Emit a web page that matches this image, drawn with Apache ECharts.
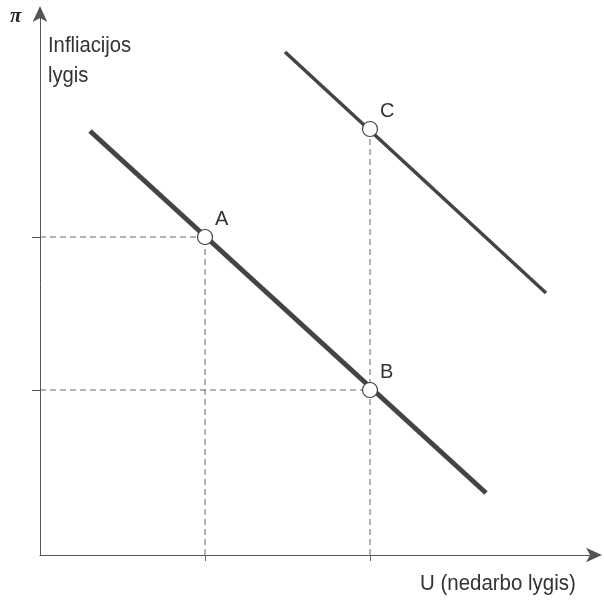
<!DOCTYPE html>
<html>
<head>
<meta charset="utf-8">
<script src="https://cdn.jsdelivr.net/npm/echarts@6/dist/echarts.min.js"></script>
<style>
  html, body { margin: 0; padding: 0; background: #fff; }
  #chart { width: 604px; height: 601px; }
</style>
</head>
<body>
<div id="chart"></div>
<script>
// curve endpoints (x, y) in axis units
const curve1 = [[50, 424], [446, 62]]
const curve2 = [[245, 503], [506, 262]]
// points on the curves
const pointNames = ['A', 'B', 'C']
const pointX = [165, 330, 330]
const pointY = [318, 165, 426]
// guide levels
const uLevels = [165, 330]
const piLevels = [165, 318]

const font = '"Liberation Sans Narrow", "Liberation Sans", Arial, sans-serif'
const ink = '#444'

const points = pointNames.map((n, i) => ({ name: n, value: [pointX[i], pointY[i]] }))

const chart = echarts.init(document.getElementById('chart'))
chart.setOption({
  animation: false,
  grid: { left: 40, right: 8, top: 12, bottom: 46 },
  xAxis: {
    type: 'value', min: 0, max: 556,
    splitLine: { show: false },
    axisLabel: { show: false },
    axisLine: { lineStyle: { color: '#555', width: 1 }, symbol: ['none', 'arrow'], symbolSize: [11, 16], symbolOffset: [0, 6] },
    axisTick: { show: true, customValues: uLevels, length: 10, inside: false, lineStyle: { color: '#666', type: [6, 4] } }
  },
  yAxis: {
    type: 'value', min: 0, max: 543,
    splitLine: { show: false },
    axisLabel: { show: false },
    axisLine: { lineStyle: { color: '#555', width: 1 }, symbol: ['none', 'arrow'], symbolSize: [11, 16], symbolOffset: [0, 6] },
    axisTick: { show: true, customValues: piLevels, length: 8, inside: false, lineStyle: { color: '#555' } }
  },
  series: [
    {
      type: 'line', data: [[0, pointY[0]], [pointX[0], pointY[0]]], symbol: 'none', z: 1,
      lineStyle: { color: '#666', width: 1, type: [6, 4] }
    },
    {
      type: 'line', data: [[0, pointY[1]], [pointX[1], pointY[1]]], symbol: 'none', z: 1,
      lineStyle: { color: '#666', width: 1, type: [6, 4] }
    },
    {
      type: 'line', data: [[pointX[0], 0], [pointX[0], pointY[0]]], symbol: 'none', z: 1,
      lineStyle: { color: '#666', width: 1, type: [6, 4] }
    },
    {
      type: 'line', data: [[pointX[2], 0], [pointX[2], pointY[2]]], symbol: 'none', z: 1,
      lineStyle: { color: '#666', width: 1, type: [6, 4] }
    },
    {
      type: 'line', data: curve1, symbol: 'none', z: 2,
      lineStyle: { color: ink, width: 5, cap: 'butt' }
    },
    {
      type: 'line', data: curve2, symbol: 'none', z: 2,
      lineStyle: { color: ink, width: 3.5, cap: 'butt' }
    },
    {
      type: 'scatter', data: points, symbol: 'circle', symbolSize: 15, z: 5,
      itemStyle: { color: '#fff', borderColor: ink, borderWidth: 1.2, opacity: 1 },
      label: {
        show: true, formatter: '{b}', position: 'right', distance: 0,
        offset: [2, -18], fontFamily: font, fontSize: 20, color: '#333'
      }
    }
  ],
  graphic: [
    { type: 'text', left: 10, top: 6, style: { text: 'π', font: 'italic bold 21px "Liberation Serif", "DejaVu Serif", serif', fill: '#222' } },
    { type: 'text', left: 48, top: 31, scaleX: 0.92, style: { text: 'Infliacijos\nlygis', fontFamily: font, fontSize: 22, lineHeight: 30, fill: '#333' } },
    { type: 'text', left: 420, top: 573, scaleX: 0.93, style: { text: 'U (nedarbo lygis)', fontFamily: font, fontSize: 22, fill: '#333' } }
  ]
})
</script>
</body>
</html>
